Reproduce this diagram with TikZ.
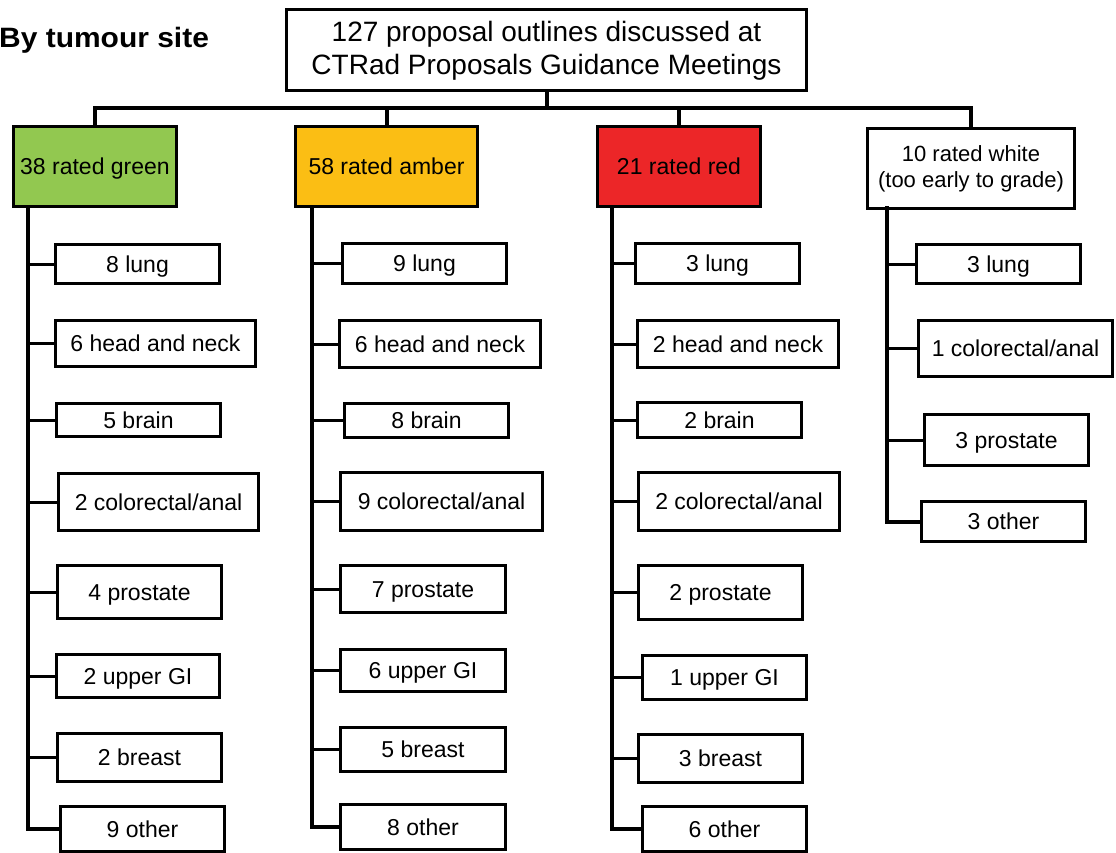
\documentclass[tikz,border=0pt]{standalone}
\usepackage{fontspec}
\setmainfont{Liberation Sans}
\definecolor{cgreen}{RGB}{146,200,80}
\definecolor{camber}{RGB}{251,190,20}
\definecolor{cred}{RGB}{236,38,40}
\begin{document}
\begin{tikzpicture}[x=1pt,y=-1pt,line join=miter,
  box/.style={draw=black, line width=3pt, inner sep=0pt, align=center, font=\fontsize{23}{26}\selectfont},
  one/.style={box, text height=16.5pt, text depth=0pt},
  vline/.style={line width=4pt},
  stub/.style={line width=3pt}]
\useasboundingbox (0,0) rectangle (1116,853);

\node[anchor=west, inner sep=0pt, text height=20pt, text depth=0pt, font=\fontsize{28}{32}\selectfont\bfseries] (heading) at (-1,37.5) {\scalebox{1.07}[1]{By tumour site}};

\node[box, minimum width=520, minimum height=81, font=\fontsize{28}{33}\selectfont] (top) at (546.5,50.5) {127 proposal outlines discussed at\\CTRad Proposals Guidance Meetings};

\node[one, fill=cgreen, minimum width=163, minimum height=80] (green) at (95,166.5) {38 rated green};
\node[one, fill=camber, minimum width=182, minimum height=80] (amber) at (386.5,166.5) {58 rated amber};
\node[one, fill=cred, minimum width=163, minimum height=80] (red) at (679,166.5) {21 rated red};
\node[box, minimum width=207, minimum height=80, font=\fontsize{22}{26}\selectfont] (white) at (971,168.5) {10 rated white\\(too early to grade)};

\coordinate (hub) at (546.5,108);
\draw[vline] (top.south) -- (hub);
\draw[vline] (green.north) |- (hub);
\draw[vline] (amber.north) |- (hub);
\draw[vline] (red.north) |- (hub);
\draw[vline] (white.north) |- (hub);

% green column
\node[one, minimum width=164, minimum height=39] (g1) at (137.5,264) {8 lung};
\node[one, minimum width=200, minimum height=46] (g2) at (155.5,343.5) {6 head and neck};
\node[one, minimum width=164, minimum height=33] (g3) at (138.5,420) {5 brain};
\node[one, minimum width=200, minimum height=57] (g4) at (158.5,502) {2 colorectal/anal};
\node[one, minimum width=164, minimum height=53] (g5) at (139.5,592) {4 prostate};
\node[one, minimum width=163, minimum height=43] (g6) at (138,676) {2 upper GI};
\node[one, minimum width=164, minimum height=48] (g7) at (139.5,757.5) {2 breast};
\node[one, minimum width=164, minimum height=45] (g8) at (142.5,829) {9 other};
\coordinate (gv) at (28,206.5);
\draw[vline] (gv) |- (g8.west);
\foreach \n in {g1,g2,g3,g4,g5,g6,g7} \draw[stub] (\n.west) -- (\n.west -| gv);

% amber column
\node[one, minimum width=164, minimum height=40] (a1) at (424.5,263.5) {9 lung};
\node[one, minimum width=201, minimum height=47] (a2) at (440,344) {6 head and neck};
\node[one, minimum width=164, minimum height=34] (a3) at (426.5,420.5) {8 brain};
\node[one, minimum width=202, minimum height=58] (a4) at (441.5,501.5) {9 colorectal/anal};
\node[one, minimum width=165, minimum height=47] (a5) at (423,589) {7 prostate};
\node[one, minimum width=165, minimum height=42] (a6) at (423,670.5) {6 upper GI};
\node[one, minimum width=165, minimum height=44] (a7) at (423,749.5) {5 breast};
\node[one, minimum width=165, minimum height=45] (a8) at (423,827) {8 other};
\coordinate (av) at (312,206.5);
\draw[vline] (av) |- (a8.west);
\foreach \n in {a1,a2,a3,a4,a5,a6,a7} \draw[stub] (\n.west) -- (\n.west -| av);

% red column
\node[one, minimum width=164, minimum height=40] (r1) at (717.5,263.5) {3 lung};
\node[one, minimum width=201, minimum height=47] (r2) at (738,344) {2 head and neck};
\node[one, minimum width=164, minimum height=35] (r3) at (719.5,420) {2 brain};
\node[one, minimum width=201, minimum height=58] (r4) at (739,501.5) {2 colorectal/anal};
\node[one, minimum width=164, minimum height=54] (r5) at (720.5,592.5) {2 prostate};
\node[one, minimum width=164, minimum height=44] (r6) at (724.5,677.5) {1 upper GI};
\node[one, minimum width=164, minimum height=48] (r7) at (720.5,758.5) {3 breast};
\node[one, minimum width=164, minimum height=45] (r8) at (724.5,829) {6 other};
\coordinate (rv) at (612,206.5);
\draw[vline] (rv) |- (r8.west);
\foreach \n in {r1,r2,r3,r4,r5,r6,r7} \draw[stub] (\n.west) -- (\n.west -| rv);

% white column
\node[one, minimum width=164, minimum height=39] (w1) at (998.5,264) {3 lung};
\node[one, minimum width=194, minimum height=56] (w2) at (1015.5,348.5) {1 colorectal/anal};
\node[one, minimum width=164, minimum height=51] (w3) at (1006.5,440) {3 prostate};
\node[one, minimum width=164, minimum height=40] (w4) at (1003.5,521.5) {3 other};
\coordinate (wv) at (887,206.5);
\draw[vline] (wv) |- (w4.west);
\foreach \n in {w1,w2,w3} \draw[stub] (\n.west) -- (\n.west -| wv);
\end{tikzpicture}
\end{document}
